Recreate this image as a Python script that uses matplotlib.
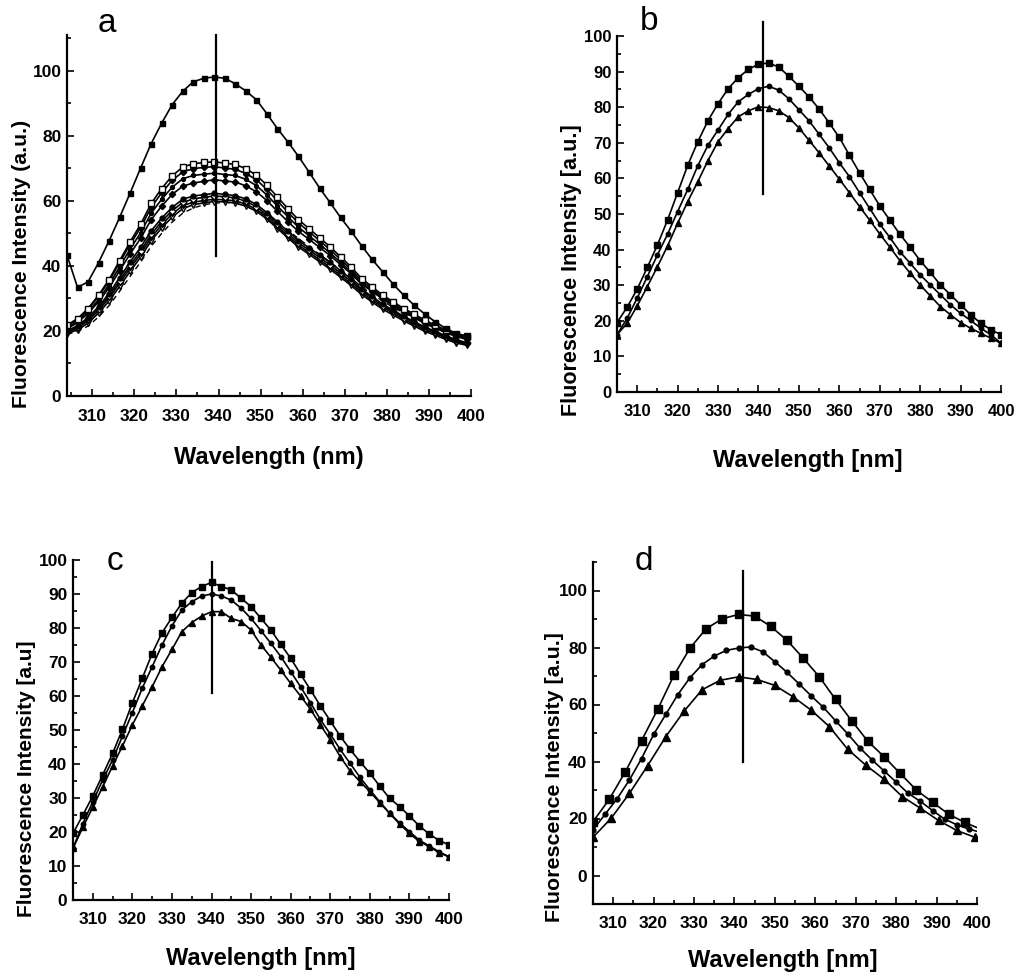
import numpy as np
import matplotlib.pyplot as plt
from matplotlib.ticker import MultipleLocator

plt.rcParams['font.family'] = ['Liberation Sans', 'DejaVu Sans']
plt.rcParams['font.weight'] = 'bold'
NARROW = ['Liberation Sans Narrow', 'Liberation Sans', 'DejaVu Sans']

W, H = 1021, 976

# ---------------- panel a ----------------
wl_a = [304, 306.5, 309, 311.5, 314, 316.5, 319, 321.5, 324, 326.5, 329, 331.5, 334,
        336.5, 339, 341.5, 344, 346.5, 349, 351.5, 354, 356.5, 359, 361.5, 364, 366.5,
        369, 371.5, 374, 376.5, 379, 381.5, 384, 386.5, 389, 391.5, 394, 396.5, 399]
a_top = [43.3, 33.4, 35.1, 41.0, 47.7, 54.9, 62.4, 70.1, 77.6, 83.9, 89.6, 93.7, 96.6,
         97.7, 98.1, 97.7, 96.0, 93.8, 91.1, 86.8, 82.2, 78.1, 73.7, 68.9, 64.0, 59.5,
         54.9, 50.7, 46.2, 42.0, 38.2, 34.4, 31.0, 27.9, 25.2, 22.8, 20.8, 19.2, 18.4]
a_s1 = [21.8, 23.8, 26.9, 31.0, 35.8, 41.6, 47.4, 52.8, 59.2, 63.8, 67.7, 70.4, 71.4,
        71.8, 72.0, 71.6, 71.2, 69.9, 67.9, 64.8, 61.2, 57.6, 54.2, 51.5, 48.7, 45.9,
        42.8, 39.7, 36.1, 33.6, 31.0, 29.0, 26.9, 25.2, 23.3, 21.8, 20.3, 19.2, 18.4]
a_s2 = [21.5, 23.5, 26.6, 30.7, 35.3, 41.0, 46.6, 51.8, 58.0, 62.5, 66.3, 68.9, 69.9,
        70.3, 70.5, 70.1, 69.7, 68.4, 66.5, 63.5, 60.0, 56.5, 53.2, 50.5, 47.8, 45.0,
        42.0, 38.9, 35.4, 33.0, 30.5, 28.5, 26.4, 24.7, 22.8, 21.3, 19.9, 18.8, 18.0]
a_s3 = [21.0, 23.0, 25.8, 29.7, 34.2, 39.7, 45.2, 50.2, 56.2, 60.5, 64.2, 66.8, 67.8,
        68.2, 68.5, 68.1, 67.8, 66.6, 64.7, 61.8, 58.4, 55.1, 51.9, 49.3, 46.7, 44.0,
        41.1, 38.2, 34.8, 32.4, 30.0, 28.0, 26.0, 24.3, 22.4, 21.0, 19.6, 18.4, 17.6]
a_s4 = [20.6, 22.6, 25.4, 29.0, 33.3, 38.5, 43.7, 48.5, 54.2, 58.4, 62.0, 64.5, 65.5,
        66.0, 66.5, 66.1, 65.8, 64.6, 62.8, 60.1, 56.8, 53.6, 50.6, 48.2, 45.7, 43.2,
        40.4, 37.6, 34.4, 32.2, 29.8, 27.8, 25.8, 24.1, 22.3, 20.9, 19.5, 18.3, 17.4]
a_s5 = [20.0, 21.6, 24.1, 27.5, 31.5, 36.4, 41.2, 45.7, 50.8, 54.7, 58.0, 60.5, 61.5,
        61.9, 62.3, 62.0, 61.6, 60.6, 58.9, 56.4, 53.5, 50.6, 47.8, 45.6, 43.3, 41.1,
        38.5, 36.0, 32.8, 30.6, 28.2, 26.4, 24.5, 22.9, 21.2, 19.9, 18.5, 17.3, 16.4]
a_s6 = [19.8, 21.3, 23.6, 26.9, 30.8, 35.5, 40.2, 44.6, 49.7, 53.7, 57.0, 59.5, 60.6,
        61.1, 61.5, 61.3, 60.9, 59.9, 58.2, 55.7, 52.8, 49.9, 47.1, 44.9, 42.6, 40.3,
        37.8, 35.3, 32.4, 30.1, 27.8, 26.0, 24.1, 22.5, 20.9, 19.6, 18.2, 17.0, 16.2]
a_s7 = [19.5, 20.9, 23.1, 26.3, 30.1, 34.7, 39.3, 43.7, 48.7, 52.7, 56.0, 58.5, 59.6,
        60.1, 60.5, 60.3, 60.0, 59.0, 57.4, 55.0, 52.1, 49.2, 46.4, 44.2, 41.9, 39.6,
        37.1, 34.6, 31.8, 29.5, 27.3, 25.5, 23.6, 22.0, 20.4, 19.2, 17.9, 16.7, 15.9]
a_s8 = [19.2, 20.3, 22.4, 25.5, 29.2, 33.7, 38.3, 42.7, 47.7, 51.7, 55.0, 57.6, 58.8,
        59.4, 59.8, 59.7, 59.3, 58.4, 56.8, 54.4, 51.5, 48.6, 45.8, 43.6, 41.3, 39.0,
        36.5, 34.0, 31.2, 28.9, 26.7, 24.9, 23.1, 21.5, 19.9, 18.7, 17.4, 16.3, 15.6]
a_dash = [19.0, 19.8, 21.5, 24.3, 27.8, 32.2, 36.8, 41.2, 46.0, 50.0, 53.5, 56.2, 57.8,
          58.8, 59.3, 59.5, 59.3, 58.7, 57.6, 55.8, 53.5, 51.0, 48.4, 46.0, 43.6, 41.2,
          38.7, 36.2, 33.6, 31.3, 29.2, 27.3, 25.5, 23.9, 22.4, 21.0, 19.8, 18.8, 18.0]

# ---------------- panels b, c ----------------
wl_bc = [305, 307.5, 310, 312.5, 315, 317.5, 320, 322.5, 325, 327.5, 330, 332.5, 335,
         337.5, 340, 342.5, 345, 347.5, 350, 352.5, 355, 357.5, 360, 362.5, 365, 367.5,
         370, 372.5, 375, 377.5, 380, 382.5, 385, 387.5, 390, 392.5, 395, 397.5, 400]
b_sq = [19.5, 23.8, 28.9, 35.0, 41.3, 48.3, 56.0, 63.7, 70.3, 76.2, 81.0, 85.2, 88.3,
        90.6, 92.1, 92.4, 91.3, 88.7, 85.9, 82.9, 79.5, 75.6, 71.5, 66.5, 61.6, 56.9,
        52.3, 48.3, 44.3, 40.7, 36.9, 33.6, 30.1, 27.3, 24.5, 21.7, 19.3, 17.5, 16.1]
b_ci = [16.1, 20.7, 26.4, 32.4, 38.5, 44.3, 50.7, 56.9, 63.6, 69.3, 73.6, 78.0, 81.5,
        83.6, 85.2, 85.9, 84.8, 82.4, 79.3, 76.2, 72.4, 68.6, 64.4, 60.5, 56.0, 51.6,
        47.2, 43.4, 39.4, 36.2, 32.9, 30.1, 27.3, 24.5, 22.1, 20.1, 17.9, 16.1, 13.7]
b_tr = [16.1, 19.3, 24.2, 29.6, 35.2, 41.0, 47.4, 53.5, 59.1, 65.0, 70.3, 74.0, 77.3,
        79.0, 80.1, 79.9, 79.0, 77.1, 74.2, 70.7, 67.2, 63.5, 59.8, 56.0, 52.1, 48.3,
        44.4, 40.7, 36.9, 33.4, 30.1, 27.0, 24.0, 21.7, 19.5, 17.9, 16.5, 15.1, 13.7]

c_sq = [19.6, 25.0, 30.6, 36.8, 43.1, 50.2, 58.0, 65.2, 72.5, 78.6, 83.1, 87.3, 90.4,
        92.2, 93.4, 92.2, 91.2, 88.7, 86.3, 82.8, 79.4, 75.2, 71.1, 66.4, 61.8, 57.1,
        52.7, 48.2, 44.3, 40.7, 37.3, 33.5, 29.9, 27.5, 24.7, 21.8, 19.4, 17.5, 16.2]
c_ci = [15.2, 22.5, 28.9, 35.3, 41.2, 48.2, 55.1, 62.3, 68.6, 75.0, 80.6, 85.3, 87.7,
        89.4, 90.0, 89.4, 88.2, 85.8, 82.8, 79.2, 75.5, 71.6, 67.2, 62.7, 58.0, 53.1,
        48.8, 44.3, 40.2, 36.1, 32.4, 28.9, 25.5, 22.7, 20.1, 17.6, 15.9, 14.2, 12.7]
c_tr = [15.2, 21.4, 27.3, 33.3, 39.4, 45.3, 51.5, 57.1, 62.7, 68.6, 73.7, 78.9, 81.6,
        83.5, 84.8, 84.8, 82.8, 81.9, 79.4, 75.0, 71.4, 67.6, 63.7, 60.0, 56.1, 51.5,
        47.1, 42.2, 38.0, 34.8, 31.9, 28.6, 25.5, 22.4, 19.6, 17.2, 15.7, 13.9, 12.7]

# ---------------- panel d ----------------
wl_d_sq = [305, 309, 313, 317, 321, 325, 329, 333, 337, 341, 345, 349, 353, 357, 361,
           365, 369, 373, 377, 381, 385, 389, 393, 397, 400]
d_sq = [18.9, 26.7, 36.4, 47.3, 58.3, 70.2, 79.8, 86.6, 90.1, 91.6, 91.0, 87.4, 82.5,
        76.3, 69.7, 61.8, 54.3, 47.1, 41.7, 35.8, 30.0, 25.7, 21.5, 18.6, 16.8]
wl_d_ci = [305, 308, 311, 314, 317, 320, 323, 326, 329, 332, 335, 338, 341, 344, 347,
           350, 353, 356, 359, 362, 365, 368, 371, 374, 377, 380, 383, 386, 389, 392,
           395, 398, 400]
d_ci = [16.0, 21.5, 27.0, 33.5, 41.0, 49.5, 56.5, 63.5, 69.4, 74.0, 77.0, 79.0, 79.8,
        80.2, 78.5, 75.0, 71.3, 67.2, 63.0, 59.0, 54.3, 49.7, 44.8, 40.6, 36.7, 32.8,
        28.8, 26.0, 22.8, 19.8, 17.8, 16.3, 15.5]
wl_d_tr = [305, 309.5, 314, 318.5, 323, 327.5, 332, 336.5, 341, 345.5, 350, 354.5, 359,
           363.5, 368, 372.5, 377, 381.5, 386, 390.5, 395, 399.5]
d_tr = [13.4, 20.1, 28.8, 38.5, 48.7, 57.6, 65.2, 68.5, 69.7, 68.8, 66.7, 62.7, 58.0,
        52.2, 44.3, 38.7, 33.8, 27.7, 23.6, 19.3, 15.8, 13.4]


def add_axes(fig, left, top, right, bottom):
    return fig.add_axes([left / W, 1 - bottom / H, (right - left) / W, (bottom - top) / H])


def style(ax, xlim, ylim, ymaj, ymin, tsize=12.5):
    ax.set_xlim(*xlim)
    ax.set_ylim(*ylim)
    for s in ['top', 'right']:
        ax.spines[s].set_visible(False)
    for s in ['left', 'bottom']:
        ax.spines[s].set_linewidth(1.6)
    ax.xaxis.set_major_locator(MultipleLocator(10))
    ax.xaxis.set_minor_locator(MultipleLocator(5))
    ax.yaxis.set_major_locator(MultipleLocator(ymaj))
    ax.yaxis.set_minor_locator(MultipleLocator(ymin))
    ax.tick_params(which='both', direction='in', width=1.2)
    ax.tick_params(which='major', length=5)
    ax.tick_params(which='minor', length=3)
    ax.tick_params(axis='x', pad=9, labelsize=tsize)
    ax.tick_params(axis='y', pad=4, labelsize=tsize)
    ax.set_xticks([310, 320, 330, 340, 350, 360, 370, 380, 390, 400])


def ptext(fig, x, y, s, **kw):
    fig.text(x / W, 1 - y / H, s, **kw)


line_kw = dict(color='black', lw=1.2, mec='black')

fig = plt.figure(figsize=(W / 100, H / 100), dpi=100)

# panel a
ax = add_axes(fig, 67, 35, 471, 396)
style(ax, (304, 400), (0, 111), 20, 10)
ax.plot(wl_a, a_dash, color='black', lw=1.0, ls=(0, (4, 3)))
ax.plot(wl_a, a_s8, marker='v', ms=4, mfc='white', **line_kw)
ax.plot(wl_a, a_s7, marker='v', ms=3.5, mfc='black', **line_kw)
ax.plot(wl_a, a_s6, marker='D', ms=3.5, mfc='white', **line_kw)
ax.plot(wl_a, a_s5, marker='o', ms=3.5, mfc='black', **line_kw)
ax.plot(wl_a, a_s4, marker='D', ms=3.2, mfc='black', **line_kw)
ax.plot(wl_a, a_s3, marker='o', ms=2.8, mfc='black', **line_kw)
ax.plot(wl_a, a_s2, marker='D', ms=3.2, mfc='black', **line_kw)
ax.plot(wl_a, a_s1, marker='s', ms=4.2, mfc='white', **line_kw)
ax.plot(wl_a, a_top, marker='s', ms=3.6, mfc='black', **line_kw)
ax.plot([339.5, 339.5], [43, 111], color='black', lw=1.6, clip_on=False)
ptext(fig, 107, 24, 'a', fontsize=24, fontweight='normal', family=NARROW, ha='center', va='center')
ptext(fig, 269, 457, 'Wavelength (nm)', fontsize=17, family=NARROW, ha='center', va='center')
ptext(fig, 22, 264, 'Fluorescence Intensity (a.u.)', fontsize=15.3, family=NARROW,
      rotation=90, ha='center', va='center')

# panel b
ax = add_axes(fig, 617, 36, 1001, 392)
style(ax, (305, 400), (0, 100), 10, 5, tsize=12)
ax.plot(wl_bc, b_tr, marker='^', ms=5, mfc='black', **line_kw)
ax.plot(wl_bc, b_ci, marker='o', ms=3.2, mfc='black', **line_kw)
ax.plot(wl_bc, b_sq, marker='s', ms=5, mfc='black', **line_kw)
ax.plot([341, 341], [55.6, 104], color='black', lw=1.6, clip_on=False)
ptext(fig, 649, 22, 'b', fontsize=24, fontweight='normal', family=NARROW, ha='center', va='center')
ptext(fig, 808, 460, 'Wavelength [nm]', fontsize=17, family=NARROW, ha='center', va='center')
ptext(fig, 572, 270, 'Fluorescence Intensity [a.u.]', fontsize=15.5, family=NARROW,
      rotation=90, ha='center', va='center')

# panel c
ax = add_axes(fig, 73, 560, 449, 900)
style(ax, (305, 400), (0, 100), 10, 5)
ax.plot(wl_bc, c_tr, marker='^', ms=5, mfc='black', **line_kw)
ax.plot(wl_bc, c_ci, marker='o', ms=3.2, mfc='black', **line_kw)
ax.plot(wl_bc, c_sq, marker='s', ms=5, mfc='black', **line_kw)
ax.plot([340, 340], [61, 99.5], color='black', lw=1.6, clip_on=False)
ptext(fig, 115, 561, 'c', fontsize=24, fontweight='normal', family=NARROW, ha='center', va='center')
ptext(fig, 261, 958, 'Wavelength [nm]', fontsize=17, family=NARROW, ha='center', va='center')
ptext(fig, 27, 779, 'Fluorescence Intensity [a.u]', fontsize=15, family=NARROW,
      rotation=90, ha='center', va='center')

# panel d
ax = add_axes(fig, 593, 562, 977, 904)
style(ax, (305, 400), (-10, 110), 20, 10)
ax.plot(wl_d_tr, d_tr, marker='^', ms=5.5, mfc='black', **line_kw)
ax.plot(wl_d_ci, d_ci, marker='o', ms=3.5, mfc='black', markevery=slice(0, -1), **line_kw)
ax.plot(wl_d_sq, d_sq, marker='s', ms=5.5, mfc='black', markevery=slice(0, -1), **line_kw)
ax.plot([342, 342], [40, 107], color='black', lw=1.6, clip_on=False)
ptext(fig, 644, 561, 'd', fontsize=24, fontweight='normal', family=NARROW, ha='center', va='center')
ptext(fig, 783, 961, 'Wavelength [nm]', fontsize=17, family=NARROW, ha='center', va='center')
ptext(fig, 554, 777, 'Fluorescence Intensity [a.u.]', fontsize=15.4, family=NARROW,
      rotation=90, ha='center', va='center')

fig.savefig('out.png', dpi=100)
